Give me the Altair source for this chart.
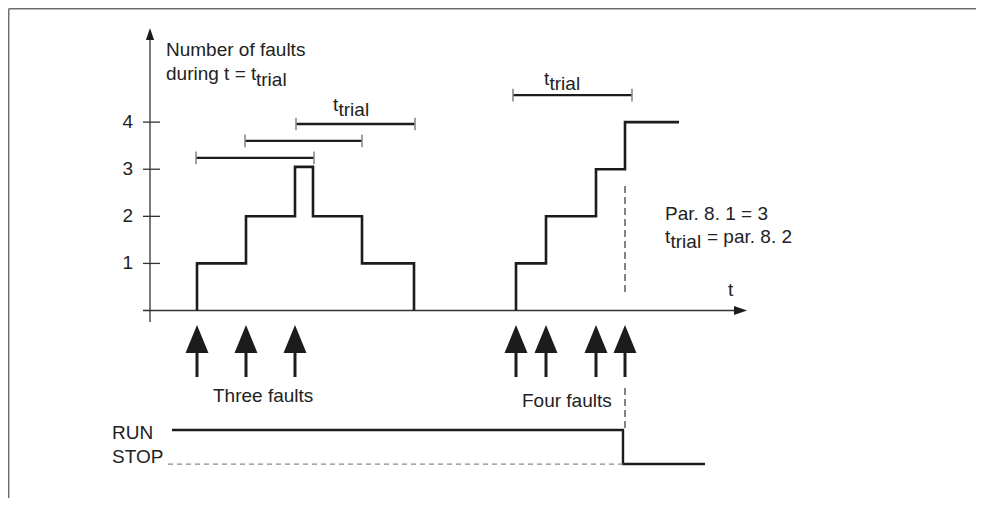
import altair as alt
import pandas as pd

# ---------------- data (t in time units, n = number of faults) ----------------
fault_times_three = [4.7, 9.6, 14.5]
fault_times_four = [36.6, 39.6, 44.6, 47.5]

count_a_t = [4.7, 4.7, 9.6, 14.5, 16.3, 21.2, 26.4]
count_a_n = [0, 1, 2, 3.05, 2, 1, 0]
count_b_t = [36.6, 36.6, 39.6, 44.6, 47.5, 52.9]
count_b_n = [0, 1, 2, 3, 4, 4]

trial_start = [4.6, 9.5, 14.6, 36.3]
trial_end = [16.4, 21.2, 26.5, 48.2]
trial_level = [3.24, 3.60, 3.96, 4.575]

y_ticks = [1, 2, 3, 4]
y_tick_labels = ["1", "2", "3", "4"]

run_t = [2.2, 47.3, 47.3, 55.5]
run_n = [-2.537, -2.537, -3.26, -3.26]
stop_t = [1.8, 47.3]
stop_n = [-3.26, -3.26]

# ---------------- scales ----------------
W, H = 968, 490
XMIN = -14.2
XMAX = XMIN + W / 10.0
YMAX = 6.423
YMIN = YMAX - H / 47.1
xs = alt.Scale(domain=[XMIN, XMAX], nice=False, zero=False)
ys = alt.Scale(domain=[YMIN, YMAX], nice=False, zero=False)
FONT = "Liberation Sans"
FS = 19
TXT = "#222222"
INK = "#1c1c1c"


def X(f="t"):
    return alt.X(f"{f}:Q", scale=xs, axis=None)


def Y(f="n"):
    return alt.Y(f"{f}:Q", scale=ys, axis=None)


def hrule(df, color, width, dash=None):
    kw = dict(color=color, strokeWidth=width)
    if dash:
        kw["strokeDash"] = dash
    return alt.Chart(df).mark_rule(**kw).encode(x=X("t"), x2="t2:Q", y=Y("n"))


def vrule(df, color, width, dash=None):
    kw = dict(color=color, strokeWidth=width)
    if dash:
        kw["strokeDash"] = dash
    return alt.Chart(df).mark_rule(**kw).encode(x=X("t"), y=Y("n"), y2="n2:Q")


def text(df, align="left", baseline="alphabetic", size=FS):
    return alt.Chart(df).mark_text(
        align=align, baseline=baseline, font=FONT, fontSize=size, color=TXT
    ).encode(x=X("t"), y=Y("n"), text="s:N")


layers = []

# frame (top and left edge)
layers.append(hrule(pd.DataFrame({"t": [XMIN + 0.07], "t2": [XMAX], "n": [YMAX - 0.015]}), "#6e6e6e", 1.5))
layers.append(vrule(pd.DataFrame({"t": [XMIN + 0.07], "n": [YMIN], "n2": [YMAX - 0.015]}), "#6e6e6e", 1.5))

# axes
layers.append(vrule(pd.DataFrame({"t": [0], "n": [-0.244], "n2": [5.81]}), "#333333", 1.3))
layers.append(hrule(pd.DataFrame({"t": [-0.7], "t2": [58.4], "n": [0]}), "#333333", 1.3))
layers.append(
    alt.Chart(pd.DataFrame({"t": [0], "n": [5.87]}))
    .mark_point(shape="M0,-1L0.68,1L-0.68,1Z", filled=True, size=144, color=INK, opacity=1, strokeWidth=0)
    .encode(x=X(), y=Y())
)
layers.append(
    alt.Chart(pd.DataFrame({"t": [59.05], "n": [0]}))
    .mark_point(shape="M1,0L-1,-0.68L-1,0.68Z", filled=True, size=169, color=INK, opacity=1, strokeWidth=0)
    .encode(x=X(), y=Y())
)
# y ticks + labels
layers.append(hrule(pd.DataFrame({"t": [-0.7] * 4, "t2": [1.0] * 4, "n": y_ticks}), "#333333", 1.3))
layers.append(text(pd.DataFrame({"t": [-1.7] * 4, "n": y_ticks, "s": y_tick_labels}), align="right", baseline="middle"))

# step curves
df_a = pd.DataFrame({"t": count_a_t, "n": count_a_n, "i": range(len(count_a_t))})
df_b = pd.DataFrame({"t": count_b_t, "n": count_b_n, "i": range(len(count_b_t))})
for d in (df_a, df_b):
    layers.append(
        alt.Chart(d)
        .mark_line(interpolate="step-after", color=INK, strokeWidth=2.6, strokeJoin="miter")
        .encode(x=X(), y=Y(), order="i:Q")
    )

# t_trial windows
df_tr = pd.DataFrame({"t": trial_start, "t2": trial_end, "n": trial_level})
layers.append(hrule(df_tr, INK, 2.3))
TH = 0.135
ends = trial_start + trial_end
lv = trial_level + trial_level
layers.append(vrule(pd.DataFrame({"t": ends, "n": [v - TH for v in lv], "n2": [v + TH for v in lv]}), "#8a8a8a", 1.6))

# fault arrows
ft = fault_times_three + fault_times_four
layers.append(
    alt.Chart(pd.DataFrame({"t": ft, "n": [-0.605] * len(ft)}))
    .mark_point(shape="M0,-1L0.82,1L-0.82,1Z", filled=True, size=784, color=INK, opacity=1, strokeWidth=0)
    .encode(x=X(), y=Y())
)
layers.append(vrule(pd.DataFrame({"t": ft, "n": [-0.88] * len(ft), "n2": [-1.412] * len(ft)}), INK, 3))

# dashed guides at the 4th fault
layers.append(vrule(pd.DataFrame({"t": [47.5, 47.5], "n": [2.643, -1.645], "n2": [0.329, -2.537]}), "#333333", 1.2, [7, 4]))

# RUN / STOP signal
layers.append(
    alt.Chart(pd.DataFrame({"t": run_t, "n": run_n, "i": range(len(run_t))}))
    .mark_line(color=INK, strokeWidth=2.4, strokeJoin="miter")
    .encode(x=X(), y=Y(), order="i:Q")
)
layers.append(
    alt.Chart(pd.DataFrame({"t": stop_t, "n": stop_n, "i": [0, 1]}))
    .mark_line(color="#8a8a8a", strokeWidth=1.3, strokeDash=[5, 4])
    .encode(x=X(), y=Y(), order="i:Q")
)

# texts
labels = pd.DataFrame(
    {
        "t": [1.6, 1.6, 10.6, 18.3, 18.85, 39.4, 39.95, 51.5, 51.5, 52.05, 55.7, 57.8, 6.3, 37.2, -3.8, -3.8],
        "n": [5.403, 4.894, 4.767, 4.236, 4.13, 4.788, 4.69, 1.921, 1.433, 1.327, 1.433, 0.308, -1.943, -2.049, -2.728, -3.238],
        "s": [
            "Number of faults",
            "during t = t",
            "trial",
            "t",
            "trial",
            "t",
            "trial",
            "Par. 8. 1 = 3",
            "t",
            "trial",
            "= par. 8. 2",
            "t",
            "Three faults",
            "Four faults",
            "RUN",
            "STOP",
        ],
    }
)
layers.append(text(labels))

chart = (
    alt.layer(*layers)
    .properties(width=W, height=H, padding=0, autosize=alt.AutoSizeParams(type="none"))
    .configure_view(strokeWidth=0, stroke="transparent")
)
chart.save("out.html", embed_options={"renderer": "svg", "actions": False})
